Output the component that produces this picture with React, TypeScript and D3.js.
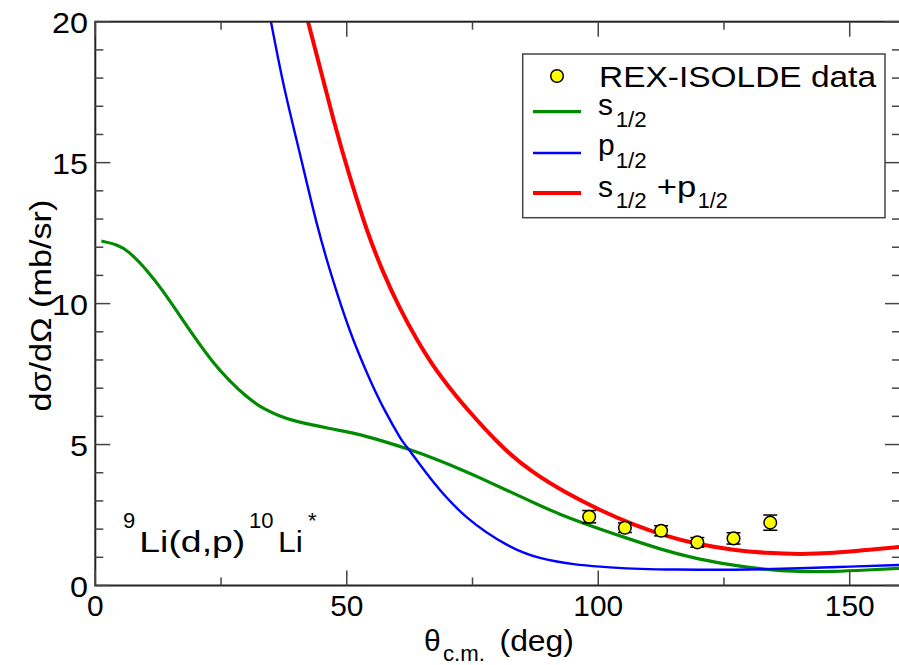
import React from "react";
import * as d3 from "d3";

// ---- data ----
const sTheta = [1.2, 4.2, 6.8, 10.1, 13.4, 16.7, 20.1, 23.4, 26.7, 30, 33.3, 36.6, 39.9, 46.6, 51.9, 57, 62.3, 68.6, 75.2, 81.8, 88.4, 92.4, 98.2, 105.7, 112.3, 118.9, 125.6, 132.2, 140, 146.8, 153.4, 160];
const sVals = [12.22, 12.08, 11.8, 11.2, 10.45, 9.6, 8.72, 7.93, 7.27, 6.72, 6.3, 6.02, 5.83, 5.57, 5.38, 5.13, 4.83, 4.42, 3.92, 3.38, 2.84, 2.53, 2.14, 1.68, 1.3, 0.99, 0.76, 0.6, 0.5, 0.5, 0.55, 0.61];

const pTheta = [34.5, 37.4, 40.7, 44.1, 47.4, 50.7, 54, 57.3, 60.6, 62.3, 67.3, 74, 81.8, 88.4, 95.1, 100.4, 107, 113.6, 120, 127, 133.5, 140, 150, 160];
const pVals = [20.4, 17.8, 15.3, 12.8, 10.75, 9.0, 7.55, 6.3, 5.25, 4.83, 3.65, 2.4, 1.45, 0.98, 0.76, 0.67, 0.6, 0.57, 0.56, 0.56, 0.58, 0.61, 0.67, 0.73];

const spTheta = [42.3, 47.4, 50.7, 54, 57.3, 60.6, 63.9, 67.2, 70.6, 73.9, 80.5, 87.1, 93.8, 100.4, 107, 113.6, 120, 126.9, 133.5, 140.1, 146.8, 153.4, 160];
const spVals = [20.0, 16.5, 14.45, 12.62, 11.1, 9.83, 8.74, 7.8, 6.98, 6.27, 5.0, 4.02, 3.28, 2.68, 2.17, 1.76, 1.47, 1.27, 1.16, 1.12, 1.16, 1.26, 1.37];

const dataTheta = [98.2, 105.3, 112.5, 119.7, 126.9, 134.2];
const dataVals = [2.44, 2.05, 1.94, 1.53, 1.67, 2.23];
const dataErr = [0.22, 0.17, 0.18, 0.17, 0.2, 0.27];

const xMajor = [0, 50, 100, 150];
const xMinor = [25, 75, 125];
const yMajor = [0, 5, 10, 15, 20];
const yMinor = [1, 2, 3, 4, 6, 7, 8, 9, 11, 12, 13, 14, 16, 17, 18, 19];

const FONT = "'Liberation Sans', Arial, Helvetica, sans-serif";

export default function App() {
  const left = 95.3, right = 900, top = 21.7, bottom = 585.5;
  const x = d3.scaleLinear().domain([0, 160]).range([left, right]);
  const y = d3.scaleLinear().domain([0, 20]).range([bottom, top]);
  const mk = (xs: number[], vs: number[]) =>
    d3.line<number>().x((d, i) => x(xs[i])).y((d) => y(d)).curve(d3.curveNatural)(vs) || "";

  const majL = 15, minL = 8;
  const axisColor = "#222";
  const digitW = 16.6;

  return (
    <svg width={899} height={665} style={{ position: "absolute", left: 0, top: 0, background: "#fff" }} fontFamily={FONT}>
      <defs>
        <clipPath id="plotclip">
          <rect x={left} y={top} width={right - left} height={bottom - top} />
        </clipPath>
      </defs>
      <rect x={0} y={0} width={899} height={665} fill="#fff" />

      {/* curves */}
      <g clipPath="url(#plotclip)" fill="none" strokeLinejoin="round">
        <path d={mk(sTheta, sVals)} stroke="#008b00" strokeWidth={3.2} />
        <path d={mk(pTheta, pVals)} stroke="#0000ff" strokeWidth={2.4} />
        <path d={mk(spTheta, spVals)} stroke="#ff0000" strokeWidth={4} />
      </g>

      {/* data points */}
      <g>
        {dataTheta.map((t, i) => {
          const cx = x(t), cy = y(dataVals[i]);
          const y1 = y(dataVals[i] + dataErr[i]), y2 = y(dataVals[i] - dataErr[i]);
          return (
            <g key={i} stroke="#000" strokeWidth={1.5}>
              <line x1={cx} x2={cx} y1={y1} y2={y2} />
              <line x1={cx - 7} x2={cx + 7} y1={y1} y2={y1} />
              <line x1={cx - 7} x2={cx + 7} y1={y2} y2={y2} />
              <circle cx={cx} cy={cy} r={6.3} fill="#ffff00" />
            </g>
          );
        })}
      </g>

      {/* frame */}
      <rect x={left} y={top} width={right - left} height={bottom - top} fill="none" stroke={axisColor} strokeWidth={2} />

      {/* ticks */}
      <g stroke="#444" strokeWidth={1.5}>
        {xMajor.map((t) => (
          <g key={"xm" + t}>
            <line x1={x(t)} x2={x(t)} y1={bottom} y2={bottom - majL} />
            <line x1={x(t)} x2={x(t)} y1={top} y2={top + majL} />
          </g>
        ))}
        {xMinor.map((t) => (
          <g key={"xn" + t}>
            <line x1={x(t)} x2={x(t)} y1={bottom} y2={bottom - minL} />
            <line x1={x(t)} x2={x(t)} y1={top} y2={top + minL} />
          </g>
        ))}
        {yMajor.map((t) => (
          <g key={"ym" + t}>
            <line x1={left} x2={left + majL} y1={y(t)} y2={y(t)} />
            <line x1={right} x2={right - majL} y1={y(t)} y2={y(t)} />
          </g>
        ))}
        {yMinor.map((t) => (
          <g key={"yn" + t}>
            <line x1={left} x2={left + minL} y1={y(t)} y2={y(t)} />
            <line x1={right} x2={right - minL} y1={y(t)} y2={y(t)} />
          </g>
        ))}
      </g>

      {/* tick labels */}
      <g fontSize={30} fill="#000">
        {xMajor.map((t) => {
          const w = String(t).length * digitW;
          return (
            <text key={"xl" + t} x={x(t) - w / 2} y={616} textLength={w} lengthAdjust="spacingAndGlyphs">{t}</text>
          );
        })}
        {yMajor.map((t) => {
          const w = String(t).length * 18;
          return (
            <text key={"yl" + t} x={88 - w} y={y(t) + 11} textLength={w} lengthAdjust="spacingAndGlyphs">{t}</text>
          );
        })}
      </g>

      {/* axis titles */}
      <g fontSize={30} fill="#000">
        <text x={424} y={651}>θ</text>
        <text x={443} y={661} fontSize={22} textLength={42} lengthAdjust="spacingAndGlyphs">c.m.</text>
        <text x={499.5} y={651} textLength={74.5} lengthAdjust="spacingAndGlyphs">(deg)</text>
        <text transform={`translate(51,${(top + bottom) / 2 + 2}) rotate(-90)`} x={-106} y={0} textLength={212} lengthAdjust="spacingAndGlyphs">
          dσ/dΩ (mb/sr)
        </text>
      </g>

      {/* annotation */}
      <g fill="#000">
        <text x={123} y={528} fontSize={22}>9</text>
        <text x={139.3} y={551.7} fontSize={30} textLength={106} lengthAdjust="spacingAndGlyphs">Li(d,p)</text>
        <text x={249} y={528} fontSize={22}>10</text>
        <text x={278} y={551.7} fontSize={30} textLength={25} lengthAdjust="spacingAndGlyphs">Li</text>
        <text x={308} y={528} fontSize={22}>*</text>
      </g>

      {/* legend */}
      <rect x={522.7} y={54} width={362.3} height={163.7} fill="#fff" stroke="#444" strokeWidth={1.5} />
      <circle cx={557} cy={76} r={6.3} fill="#ffff00" stroke="#000" strokeWidth={1.5} />
      <line x1={533} x2={581} y1={111.7} y2={111.7} stroke="#008b00" strokeWidth={3.2} />
      <line x1={533} x2={581} y1={153} y2={153} stroke="#0000ff" strokeWidth={2.4} />
      <line x1={533} x2={581} y1={193} y2={193} stroke="#ff0000" strokeWidth={4} />
      <g fontSize={30} fill="#000">
        <text x={599} y={87} textLength={277} lengthAdjust="spacingAndGlyphs">REX-ISOLDE data</text>
        <text x={598} y={115}>s</text>
        <text x={615.7} y={127} fontSize={22} textLength={31} lengthAdjust="spacingAndGlyphs">1/2</text>
        <text x={598} y={155}>p</text>
        <text x={615.7} y={167.5} fontSize={22} textLength={31} lengthAdjust="spacingAndGlyphs">1/2</text>
        <text x={598} y={196.5}>s</text>
        <text x={615.7} y={208.3} fontSize={22} textLength={31} lengthAdjust="spacingAndGlyphs">1/2</text>
        <text x={656.7} y={196.5} textLength={39.5} lengthAdjust="spacingAndGlyphs">+p</text>
        <text x={697.7} y={208.3} fontSize={22} textLength={30} lengthAdjust="spacingAndGlyphs">1/2</text>
      </g>
    </svg>
  );
}
